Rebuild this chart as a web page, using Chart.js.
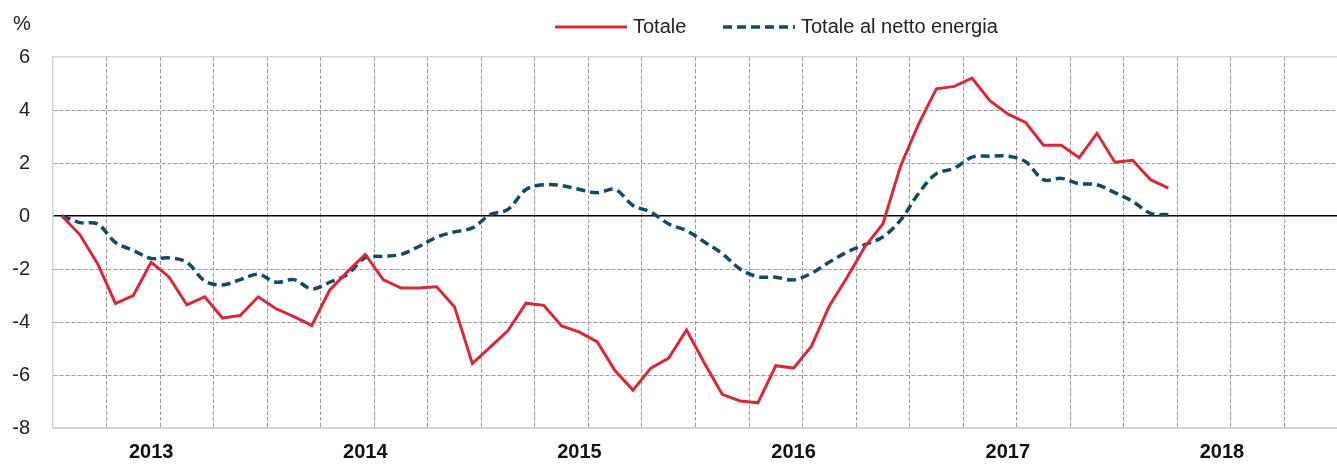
<!DOCTYPE html>
<html>
<head>
<meta charset="utf-8">
<script src="https://cdn.jsdelivr.net/npm/chart.js@4/dist/chart.umd.min.js"></script>
<style>
  html, body { margin: 0; padding: 0; background: #fff; overflow: hidden; }
  #wrap { position: relative; width: 1341px; height: 464px; }
</style>
</head>
<body>
<div id="wrap"><canvas id="chart"></canvas></div>
<script>
// categories: monthly, Jan 2013 - Dec 2018
const years = ['2013', '2014', '2015', '2016', '2017', '2018'];
const months = [];
years.forEach(function (y) {
  for (let m = 1; m <= 12; m++) {
    months.push(y + '-' + (m < 10 ? '0' + m : m));
  }
});

// Totale (Jan 2013 - Mar 2018)
const totale = [
  0, -0.7, -1.8, -3.3, -3.0, -1.75, -2.3, -3.35, -3.05, -3.85,
  -3.75, -3.05, -3.5, -3.8, -4.13, -2.8, -2.1, -1.45, -2.4, -2.72,
  -2.72, -2.67, -3.43, -5.57, -4.95, -4.32, -3.29, -3.37, -4.15, -4.38,
  -4.75, -5.84, -6.57, -5.74, -5.36, -4.3, -5.55, -6.73, -6.98, -7.05,
  -5.65, -5.74, -4.91, -3.39, -2.31, -1.15, -0.3, 1.9, 3.47, 4.8,
  4.89, 5.2, 4.35, 3.85, 3.53, 2.67, 2.67, 2.2, 3.12, 2.03,
  2.1, 1.37, 1.05
];

// Totale al netto energia
const nettoEnergia = [
  0, -0.25, -0.3, -1.0, -1.3, -1.6, -1.58, -1.75, -2.45, -2.6,
  -2.4, -2.2, -2.5, -2.4, -2.75, -2.5, -2.2, -1.57, -1.52, -1.45,
  -1.15, -0.8, -0.6, -0.45, 0.05, 0.25, 1.0, 1.18, 1.15, 1.0,
  0.88, 1.0, 0.4, 0.15, -0.3, -0.55, -0.98, -1.42, -2.0, -2.29,
  -2.31, -2.41, -2.16, -1.74, -1.36, -1.08, -0.79, -0.15, 0.85, 1.6,
  1.8, 2.22, 2.26, 2.26, 2.05, 1.37, 1.42, 1.22, 1.18, 0.88,
  0.55, 0.1, 0.05
];

const yTicks = [6, 4, 2, 0, -2, -4, -6, -8];

const RED = '#d42a3a';
const BLUE = '#124a66';
const GRID = '#9a9a9a';
const FRAME = '#d4d4d4';
const FONT = "'Liberation Sans', Arial, sans-serif";

// legend + "%" label drawn on top
const legendPlugin = {
  id: 'topLegend',
  afterDraw: function (chart) {
    const ctx = chart.ctx;
    const items = chart.data.datasets;
    const x0 = [555, 723];
    ctx.save();
    ctx.font = '20px ' + FONT;
    ctx.textBaseline = 'middle';
    ctx.fillStyle = '#222';
    ctx.textAlign = 'center';
    ctx.fillText('%', 22, 24);
    ctx.textAlign = 'left';
    items.forEach(function (ds, i) {
      ctx.beginPath();
      ctx.strokeStyle = ds.borderColor;
      ctx.lineWidth = ds.borderWidth;
      ctx.setLineDash(ds.borderDash || []);
      ctx.moveTo(x0[i], 27);
      ctx.lineTo(x0[i] + 72, 27);
      ctx.stroke();
      ctx.setLineDash([]);
      ctx.fillStyle = '#222';
      ctx.fillText(ds.label, x0[i] + 78, 27);
    });
    ctx.restore();
  }
};

new Chart(document.getElementById('chart'), {
  type: 'line',
  data: {
    labels: months,
    datasets: [
      {
        label: 'Totale',
        data: totale,
        borderColor: RED,
        borderWidth: 3,
        pointRadius: 0,
        tension: 0,
        fill: false
      },
      {
        label: 'Totale al netto energia',
        data: nettoEnergia,
        borderColor: BLUE,
        borderWidth: 3.5,
        borderDash: [9, 5],
        pointRadius: 0,
        tension: 0.35,
        fill: false
      }
    ]
  },
  options: {
    responsive: true,
    maintainAspectRatio: false,
    animation: false,
    layout: { padding: { top: 57, left: 0, right: 0, bottom: 0 } },
    plugins: {
      legend: { display: false },
      tooltip: { enabled: false }
    },
    scales: {
      x: {
        type: 'category',
        offset: true,
        grid: {
          offset: true,
          drawTicks: false,
          lineWidth: 1,
          color: function (c) {
            if (c.index === 0) return 'rgba(0,0,0,0)';
            return c.index % 3 === 0 ? GRID : 'rgba(0,0,0,0)';
          }
        },
        border: { display: true, color: FRAME, width: 1.5, dash: [4, 2] },
        ticks: {
          autoSkip: false,
          maxRotation: 0,
          minRotation: 0,
          padding: 12,
          color: '#111',
          font: { family: FONT, size: 20, weight: 'bold' },
          callback: function (value, index) {
            return index % 12 === 5 ? years[Math.floor(index / 12)] : '';
          }
        },
        afterFit: function (scale) { scale.height = 36; }
      },
      y: {
        min: -8,
        max: 6,
        afterBuildTicks: function (scale) {
          scale.ticks = yTicks.map(function (v) { return { value: v }; });
        },
        grid: {
          drawTicks: false,
          color: function (c) {
            const v = c.tick ? c.tick.value : null;
            if (v === 0) return '#000';
            if (v === 6 || v === -8) return FRAME;
            return GRID;
          },
          lineWidth: function (c) {
            const v = c.tick ? c.tick.value : null;
            if (v === 0) return 1.5;
            if (v === 6) return 1.5;
            return 1;
          }
        },
        border: {
          display: true,
          color: FRAME,
          width: 1.5,
          dash: function (c) {
            const v = c.tick ? c.tick.value : null;
            if (v === 0 || v === 6 || v === -8) return [];
            return [4, 2];
          }
        },
        ticks: {
          padding: 23,
          color: '#222',
          font: { family: FONT, size: 20 }
        },
        afterFit: function (scale) { scale.width = 53; }
      }
    }
  },
  plugins: [legendPlugin]
});
</script>
</body>
</html>
